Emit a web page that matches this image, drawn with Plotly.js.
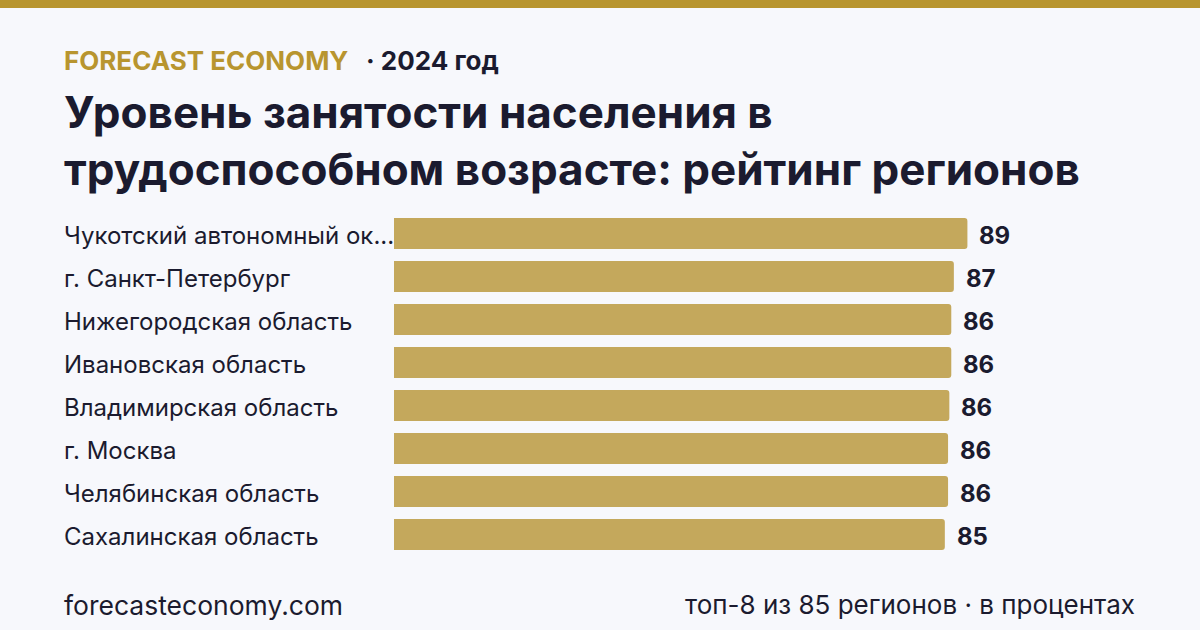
<!DOCTYPE html>
<html>
<head>
<meta charset="utf-8">
<script src="https://cdn.plot.ly/plotly-3.0.1.min.js"></script>
<style>
html,body{margin:0;padding:0;background:#f7f8fc;}
#chart{width:1200px;height:630px;}
</style>
</head>
<body>
<div id="chart"></div>
<script>
// Data
var regions = [
  "Чукотский автономный ок...",
  "г. Санкт-Петербург",
  "Нижегородская область",
  "Ивановская область",
  "Владимирская область",
  "г. Москва",
  "Челябинская область",
  "Сахалинская область"
];
var values = [88.9, 86.8, 86.4, 86.4, 86.1, 85.9, 85.9, 85.4];
var brand = "FORECAST ECONOMY";
var yearLabel = "· 2024 год";
var titleText = "Уровень занятости населения в<br>трудоспособном возрасте: рейтинг регионов";
var footerLeft = "forecasteconomy.com";
var footerRight = "топ-8 из 85 регионов · в процентах";

var DARK = "#1b1b2f";
var GOLD = "#b8952f";
var BAR = "#c4a85c";
var FONT = "Inter, 'Noto Sans', sans-serif";

var trace = {
  type: "bar",
  orientation: "h",
  x: values,
  y: regions,
  marker: {color: BAR, line: {width: 0}},
  width: 0.72,
  hoverinfo: "none"
};

var annotations = [];
// Category labels (left aligned)
regions.forEach(function(r){
  annotations.push({
    xref: "paper", yref: "y", x: -0.515, y: r,
    xanchor: "left", yanchor: "middle", yshift: -2,
    text: r, showarrow: false,
    font: {family: FONT, size: 24, color: DARK}
  });
});
// Value labels
values.forEach(function(v, i){
  annotations.push({
    xref: "x", yref: "y", x: v, y: regions[i],
    xanchor: "left", yanchor: "middle", xshift: 10, yshift: -2,
    text: "<b>" + Math.round(v) + "</b>", showarrow: false,
    font: {family: FONT, size: 24, color: DARK}
  });
});
// Header
annotations.push({
  xref: "paper", yref: "paper", x: -0.515, y: 1.439,
  xanchor: "left", yanchor: "middle",
  text: "<b>" + brand + "</b>", showarrow: false,
  font: {family: FONT, size: 26, color: GOLD}
});
annotations.push({
  xref: "paper", yref: "paper", x: -0.0465, y: 1.439,
  xanchor: "left", yanchor: "middle",
  text: "<b>" + yearLabel + "</b>", showarrow: false,
  font: {family: FONT, size: 26, color: DARK}
});
// Footer
annotations.push({
  xref: "paper", yref: "paper", x: -0.515, y: -0.141,
  xanchor: "left", yanchor: "middle",
  text: footerLeft, showarrow: false,
  font: {family: FONT, size: 26.5, color: DARK}
});
annotations.push({
  xref: "paper", yref: "paper", x: 1.1525, y: -0.141,
  xanchor: "right", yanchor: "middle",
  text: footerRight, showarrow: false,
  font: {family: FONT, size: 26, color: DARK}
});

var layout = {
  width: 1200, height: 630,
  paper_bgcolor: "#f7f8fc",
  plot_bgcolor: "#f7f8fc",
  margin: {l: 394, r: 161, t: 212, b: 74, pad: 0},
  showlegend: false,
  barcornerradius: 3,
  title: {
    text: "<b>" + titleText + "</b>",
    xref: "container", yref: "container",
    x: 64/1200, xanchor: "left",
    y: 1 - 128/630, yanchor: "top",
    font: {family: FONT, size: 44, color: DARK}
  },
  xaxis: {
    range: [0, 100], visible: false, fixedrange: true
  },
  yaxis: {
    autorange: "reversed", showticklabels: false, showgrid: false,
    zeroline: false, showline: false, ticks: "", fixedrange: true
  },
  shapes: [{
    type: "rect", xref: "paper", yref: "paper",
    x0: -1, x1: 2, y0: 1.593, y1: 1.62,
    fillcolor: GOLD, line: {width: 0}
  }],
  annotations: annotations
};

Plotly.newPlot("chart", [trace], layout, {displayModeBar: false, staticPlot: true});
</script>
</body>
</html>
